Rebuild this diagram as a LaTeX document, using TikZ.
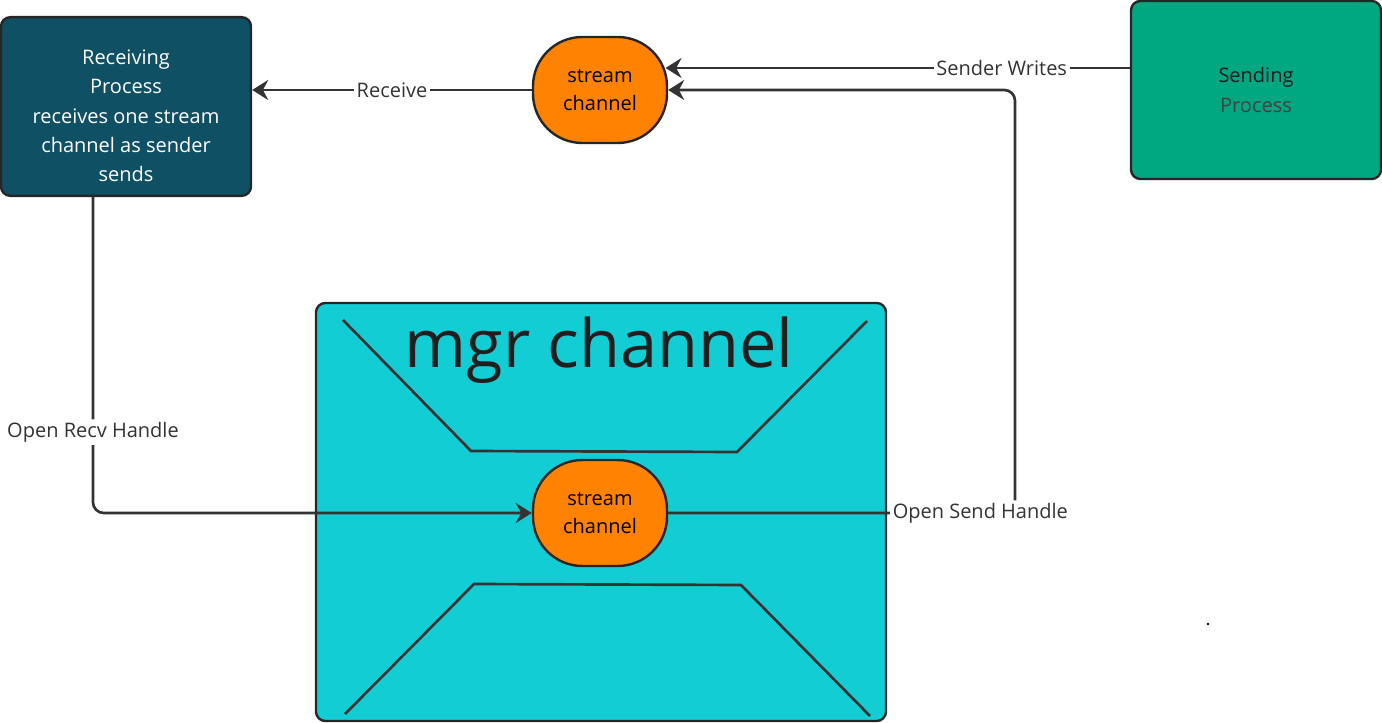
\documentclass[tikz,border=0pt]{standalone}
\usepackage{fontspec}
\setmainfont{Open Sans}
\usetikzlibrary{arrows.meta,positioning,shapes,calc}
\usepackage{xcolor}
\definecolor{recvfill}{HTML}{0F5064}
\definecolor{sendfill}{HTML}{00A882}
\definecolor{mgrfill}{HTML}{13CDD4}
\definecolor{chanfill}{HTML}{FF8300}
\definecolor{linegray}{HTML}{333333}

\begin{document}
\begin{tikzpicture}[x=0.75pt,y=-0.75pt,
    >={Stealth[length=12pt,width=15pt,inset=4pt]},
    conn/.style={line width=2pt,draw=linegray},
    proc/.style={draw=black!85,line width=1.8pt,rounded corners=7pt,align=center,font=\fontsize{15}{22}\selectfont},
    chan/.style={draw=black!85,line width=1.8pt,rounded corners=37pt,fill=chanfill,align=center,
      minimum width=100.5pt,minimum height=79.5pt,font=\fontsize{15}{21.5}\selectfont},
    lbl/.style={fill=white,inner sep=2pt,text=black!80,font=\fontsize{15}{18}\selectfont}]
    \useasboundingbox (0,0) rectangle (1382,723);
    \node[proc,fill=recvfill,minimum width=187.5pt,minimum height=134pt] (recv) at (126,106.5) {};
    \node[align=center,text=white,font=\fontsize{15}{22}\selectfont] (recvtext) at (126,116)
      {Receiving\\Process\\receives one stream\\channel as sender\\sends};
    \node[proc,fill=sendfill,minimum width=187.5pt,minimum height=133.5pt] (send) at (1256,90)
      {\textcolor{black!90}{Sending}\\\textcolor{black!75}{Process}};
    \node[chan] (topchan) at (600,90) {stream\\channel};
    \node[proc,fill=mgrfill,minimum width=427.5pt,minimum height=313.5pt] (mgr) at (601,512) {};
    \node[font=\fontsize{50}{50}\selectfont,text=black!88] (mgrtitle) at (599,350) {mgr channel};
    \draw[conn] (343,320) -- (471,451) -- (737,452) -- (867,321);
    \draw[conn] (345,714) -- (474,584) -- (741,585) -- (870,716);
    \node[chan] (lowchan) at (600,513) {stream\\channel};
    \node[circle,fill=black,inner sep=0pt,minimum size=2pt] (dot) at (1208,624) {};
    \draw[conn,->] (topchan.west) -- node[lbl] {Receive} (recv.east |- topchan.west);
    \draw[conn,->] ([yshift=16.5pt]send.west) -- node[lbl,pos=0.276] {Sender Writes} ([yshift=16.5pt,xshift=-2pt]topchan.east);
    \draw[conn,->,rounded corners=8pt] (lowchan.east) -- node[lbl,pos=0.9] {Open Send Handle} (1015,513) -- (1015,90) -- (topchan.east);
    \draw[conn,->,rounded corners=8pt] ([xshift=-24.75pt]recv.south) -- node[lbl,pos=0.744] {Open Recv Handle} (93,513) -- (lowchan.west);
  \end{tikzpicture}
\end{document}
